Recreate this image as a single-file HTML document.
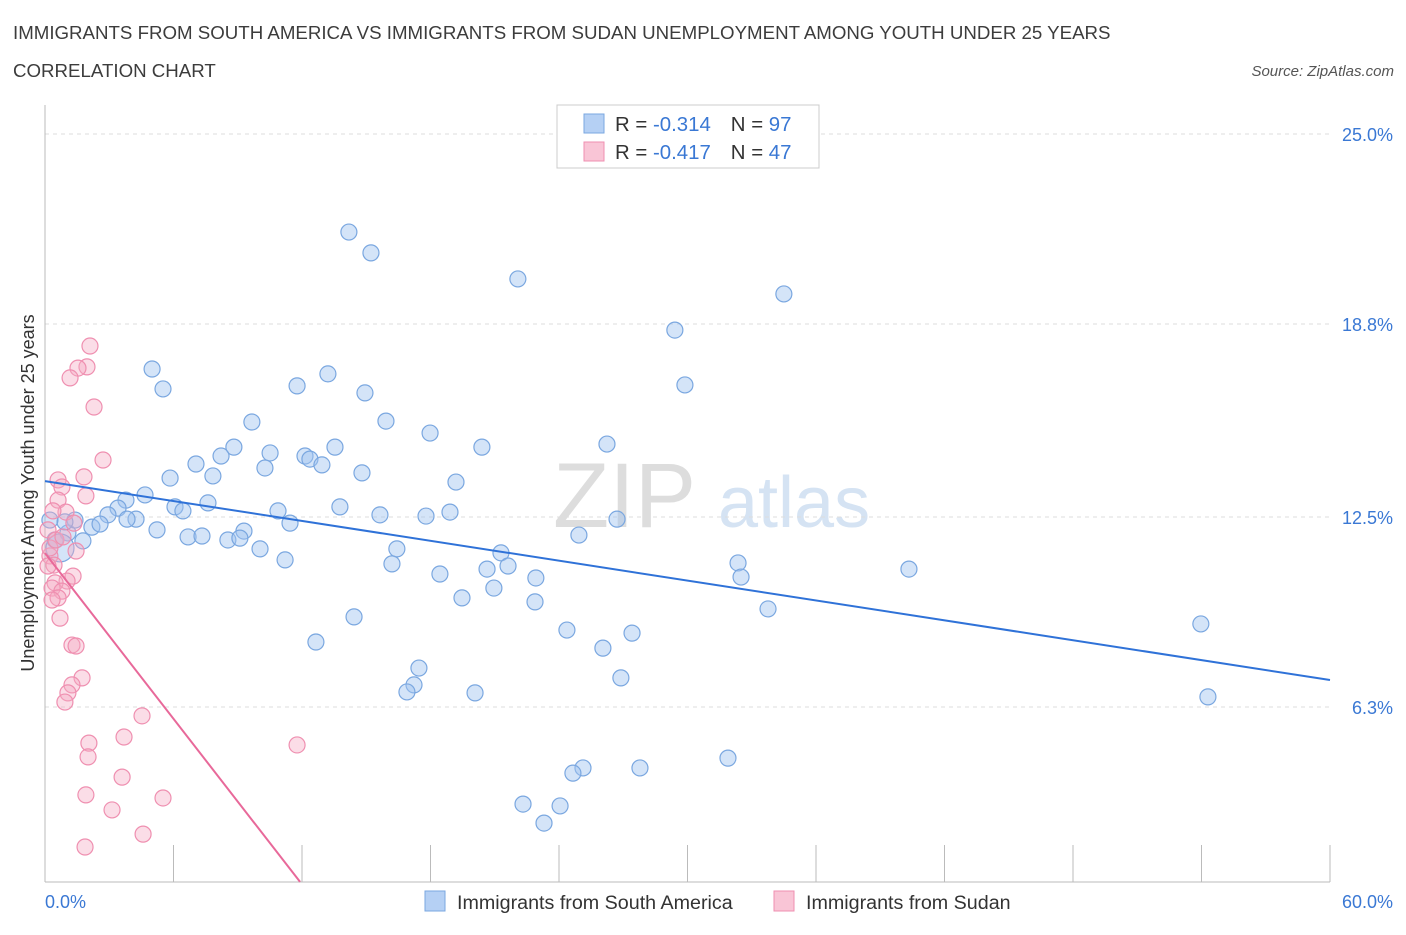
<!DOCTYPE html>
<html><head><meta charset="utf-8"><style>
body{margin:0;background:#fff;font-family:"Liberation Sans",sans-serif}
svg text{font-family:"Liberation Sans",sans-serif}
</style></head><body>
<svg id="chart" width="1406" height="930" xmlns="http://www.w3.org/2000/svg">
<text x="13" y="39" font-size="18.7" fill="#3c3c3c">IMMIGRANTS FROM SOUTH AMERICA VS IMMIGRANTS FROM SUDAN UNEMPLOYMENT AMONG YOUTH UNDER 25 YEARS</text>
<text x="13" y="77" font-size="18.7" fill="#3c3c3c">CORRELATION CHART</text>
<text x="1394" y="76" font-size="15" fill="#555" text-anchor="end" font-style="italic">Source: ZipAtlas.com</text>
<text x="553" y="527" font-size="92" fill="#ddd" font-family="Liberation Serif">ZIP</text>
<text x="718" y="527" font-size="72" fill="#d5e3f3">atlas</text>
<g id="grid"></g>
<g id="axes"></g>
<g id="marks"></g>
<text transform="translate(34,493) rotate(-90)" font-size="18" fill="#333" text-anchor="middle">Unemployment Among Youth under 25 years</text>
<text x="45" y="908" font-size="18" fill="#3a78d4">0.0%</text>
<text x="1393" y="908" font-size="18" fill="#3a78d4" text-anchor="end">60.0%</text>
<g>
<rect x="557" y="105" width="262" height="63" fill="#fff" stroke="#ccc"/>
<rect x="584" y="114" width="20" height="19" fill="#b5d0f4" stroke="#7aa7e0"/>
<rect x="584" y="142" width="20" height="19" fill="#f9c5d6" stroke="#ef8fb0"/>
<text x="615" y="131" font-size="20.4" fill="#333">R = <tspan fill="#3a78d4">-0.314</tspan><tspan dx="20">N = </tspan><tspan fill="#3a78d4">97</tspan></text>
<text x="615" y="159" font-size="20.4" fill="#333">R = <tspan fill="#3a78d4">-0.417</tspan><tspan dx="20">N = </tspan><tspan fill="#3a78d4">47</tspan></text>
</g>
<g>
<rect x="425" y="891" width="20" height="20" fill="#b5d0f4" stroke="#7aa7e0"/>
<text x="457" y="909" font-size="19.7" fill="#333">Immigrants from South America</text>
<rect x="774" y="891" width="20" height="20" fill="#f9c5d6" stroke="#ef8fb0"/>
<text x="806" y="909" font-size="19.7" fill="#333">Immigrants from Sudan</text>
</g>
</svg>
<script>
const yTicks=[25.0,18.8,12.5,6.3];
const yTickLabels=["25.0%","18.8%","12.5%","6.3%"];
const xTicks=[0,6,12,18,24,30,36,42,48,54,60];
const blueX=[14.19,15.22,22.08,34.50,29.41,29.88,5.00,5.51,11.77,13.21,14.94,9.66,15.92,17.98,20.40,26.24,8.82,10.51,8.22,7.05,10.27,12.14,12.37,12.93,13.54,14.80,19.19,5.84,7.84,4.67,3.78,3.41,2.94,4.25,3.83,6.07,6.44,7.61,10.88,11.44,13.77,15.64,17.79,18.91,26.71,9.29,5.23,6.68,7.33,8.54,9.10,10.04,11.21,16.43,16.20,24.93,21.29,20.64,21.62,18.44,22.92,20.96,19.47,22.88,32.36,32.50,40.34,33.76,14.43,12.65,24.37,27.41,26.05,17.46,17.23,16.90,20.08,26.89,53.97,54.30,31.89,27.78,25.12,24.65,22.32,24.05,23.30,0.47,1.07,1.40,1.77,2.19,2.57,0.93,0.23,0.70];
const blueY=[21.80,21.12,20.27,19.78,18.60,16.81,17.33,16.68,16.78,17.17,16.55,15.60,15.63,15.24,14.78,14.88,14.78,14.59,14.49,14.23,14.10,14.49,14.39,14.20,14.78,13.94,13.64,13.77,13.84,13.22,13.05,12.79,12.57,12.43,12.43,12.83,12.70,12.96,12.70,12.30,12.83,12.57,12.53,12.66,12.43,12.04,12.08,11.85,11.88,11.75,11.81,11.46,11.10,11.46,10.97,11.91,11.33,10.80,10.90,10.64,10.51,10.18,9.86,9.73,11.00,10.54,10.80,9.50,9.24,8.42,8.81,8.71,8.22,7.57,7.02,6.79,6.76,7.25,9.01,6.63,4.63,4.31,4.31,4.14,3.13,3.07,2.51,11.75,11.98,12.40,11.72,12.17,12.27,12.34,12.40,11.49];
const pinkX=[2.10,1.96,1.54,1.17,2.29,2.71,1.82,0.61,0.79,1.91,0.61,0.98,0.37,1.35,0.14,1.45,0.23,0.42,1.31,1.03,0.47,0.33,0.79,0.61,0.33,0.70,1.26,1.45,1.73,1.26,1.07,0.93,4.53,2.05,3.69,2.01,11.77,3.60,1.91,5.51,3.13,4.58,1.87,0.14,0.23,0.51,0.84];
const pinkY=[18.08,17.40,17.36,17.04,16.09,14.36,13.81,13.71,13.48,13.19,13.05,12.66,12.70,12.30,12.08,11.39,11.23,10.93,10.57,10.41,10.35,10.18,10.08,9.86,9.79,9.20,8.32,8.29,7.25,7.02,6.76,6.46,6.01,5.12,5.32,4.67,5.06,4.01,3.43,3.33,2.94,2.15,1.73,10.90,11.49,11.75,11.85];
const blueTrend=[13.67,7.18];
const pinkTrend=[11.32,0.59];
const pinkTrendEndX=11.91;
const NS="http://www.w3.org/2000/svg";
const X0=45,X1=1330,XMAX=60,Y0=900,PPY=30.64;
function sx(v){return X0+(v/XMAX)*(X1-X0);}
function sy(v){return Y0-v*PPY;}
function mk(tag,attrs,parent){const e=document.createElementNS(NS,tag);for(const k in attrs)e.setAttribute(k,attrs[k]);parent.appendChild(e);return e;}
const grid=document.getElementById('grid'),axes=document.getElementById('axes'),marks=document.getElementById('marks');
yTicks.forEach((t,i)=>{
 const l=mk('line',{x1:45,x2:1330,y1:sy(t),y2:sy(t),stroke:'#ddd','stroke-dasharray':'4,4'},grid);
 
 
 const tx=mk('text',{x:1393,y:sy(t)+7,'font-size':18,fill:'#3a78d4','text-anchor':'end'},grid);
 tx.textContent=yTickLabels[i];
 
 
});
const ya=mk('line',{x1:45,x2:45,y1:105,y2:882,stroke:'#bbb'},axes);


const xa=mk('line',{x1:45,x2:1330,y1:882,y2:882,stroke:'#bbb'},axes);


xTicks.forEach(t=>{
 const l=mk('line',{x1:sx(t),x2:sx(t),y1:845,y2:882,stroke:'#bbb'},axes);
 
 
});
blueX.forEach((x,i)=>{
 const big=(i===blueX.length-1);
 const c=mk('circle',{cx:sx(x),cy:sy(blueY[i]),r:big?14:8,fill:'rgba(160,196,240,0.45)',stroke:'#7aa7e0','stroke-width':1.2},marks);
 
 
});
pinkX.forEach((x,i)=>{
 const c=mk('circle',{cx:sx(x),cy:sy(pinkY[i]),r:8,fill:'rgba(245,170,195,0.4)',stroke:'#ef8fb0','stroke-width':1.2},marks);
 
 
});
const bl=mk('line',{x1:sx(0),y1:sy(blueTrend[0]),x2:sx(60),y2:sy(blueTrend[1]),stroke:'#2f72d8','stroke-width':2},marks);


const pl=mk('line',{x1:sx(0),y1:sy(pinkTrend[0]),x2:sx(pinkTrendEndX),y2:sy(pinkTrend[1]),stroke:'#e8699a','stroke-width':2},marks);


</script>
</body></html>
